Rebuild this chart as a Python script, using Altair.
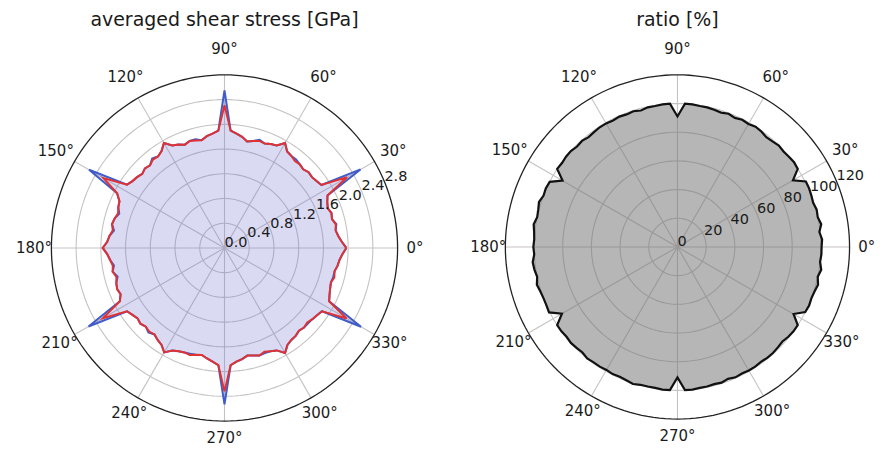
import altair as alt
import pandas as pd

# ---------------- data ----------------
theta_deg = list(range(0, 360, 3))

stress_red = [
    1.97, 1.90, 1.85, 1.82, 1.84, 1.80, 1.82, 1.79, 1.82, 1.87,
    2.29, 1.87, 1.84, 1.82, 1.83, 1.80, 1.82, 1.81, 1.84, 1.86,
    1.96, 1.86, 1.84, 1.81, 1.82, 1.79, 1.76, 1.82, 1.86, 1.90,
    2.31, 1.90, 1.86, 1.83, 1.78, 1.80, 1.82, 1.79, 1.83, 1.86,
    1.96, 1.87, 1.83, 1.84, 1.80, 1.82, 1.79, 1.82, 1.84, 1.88,
    2.26, 1.95, 1.86, 1.84, 1.81, 1.84, 1.86, 1.83, 1.87, 1.90,
    1.97, 1.90, 1.86, 1.83, 1.85, 1.81, 1.84, 1.86, 1.84, 1.90,
    2.27, 1.88, 1.84, 1.81, 1.83, 1.80, 1.82, 1.80, 1.84, 1.87,
    1.95, 1.86, 1.83, 1.81, 1.82, 1.79, 1.77, 1.81, 1.85, 1.90,
    2.32, 1.90, 1.85, 1.82, 1.78, 1.80, 1.83, 1.80, 1.83, 1.86,
    1.96, 1.87, 1.84, 1.83, 1.80, 1.82, 1.80, 1.83, 1.85, 1.88,
    2.28, 1.90, 1.86, 1.83, 1.81, 1.84, 1.82, 1.85, 1.87, 1.91,
]

stress_blue = [
    1.97, 1.90, 1.85, 1.82, 1.85, 1.80, 1.82, 1.79, 1.82, 1.87,
    2.54, 1.87, 1.84, 1.82, 1.83, 1.80, 1.82, 1.84, 1.84, 1.86,
    1.96, 1.86, 1.84, 1.81, 1.84, 1.79, 1.76, 1.82, 1.86, 1.90,
    2.55, 1.90, 1.86, 1.83, 1.78, 1.82, 1.82, 1.79, 1.83, 1.86,
    1.96, 1.87, 1.83, 1.86, 1.80, 1.82, 1.79, 1.82, 1.84, 1.88,
    2.53, 1.95, 1.86, 1.84, 1.79, 1.84, 1.86, 1.81, 1.87, 1.90,
    1.97, 1.90, 1.86, 1.81, 1.85, 1.79, 1.84, 1.86, 1.84, 1.90,
    2.54, 1.88, 1.84, 1.81, 1.83, 1.80, 1.84, 1.80, 1.84, 1.87,
    1.95, 1.86, 1.83, 1.81, 1.80, 1.79, 1.77, 1.81, 1.85, 1.90,
    2.53, 1.90, 1.85, 1.82, 1.78, 1.80, 1.83, 1.82, 1.83, 1.86,
    1.96, 1.87, 1.84, 1.83, 1.80, 1.82, 1.82, 1.83, 1.85, 1.88,
    2.55, 1.90, 1.86, 1.83, 1.81, 1.82, 1.82, 1.85, 1.87, 1.91,
]

ratio_pct = [
    100.5, 101.0, 99.5, 101.5, 100.0, 100.5, 99.5, 100.0, 100.5, 100.5,
    93.0, 100.0, 100.5, 100.0, 99.5, 100.0, 99.0, 98.5, 99.5, 100.0,
    99.0, 99.5, 98.5, 99.5, 98.5, 99.0, 99.5, 99.5, 100.0, 100.0,
    91.0, 100.0, 100.0, 99.5, 99.5, 98.5, 99.5, 99.0, 99.5, 99.0,
    99.5, 99.5, 99.0, 98.5, 99.5, 99.0, 100.0, 100.0, 99.5, 100.0,
    92.5, 100.0, 100.5, 100.0, 101.5, 100.5, 100.0, 101.5, 100.5, 100.0,
    100.5, 100.0, 101.5, 101.0, 100.0, 101.5, 100.5, 100.0, 100.0, 100.5,
    93.0, 100.0, 100.0, 99.5, 100.0, 99.5, 99.0, 100.0, 99.5, 99.5,
    99.0, 99.5, 99.0, 99.5, 100.5, 99.5, 99.5, 99.5, 100.0, 100.0,
    91.0, 100.0, 100.0, 99.5, 99.5, 99.0, 99.5, 98.5, 99.5, 99.0,
    99.5, 99.5, 99.0, 99.5, 99.5, 99.0, 98.5, 99.5, 100.0, 100.0,
    93.5, 100.0, 100.5, 100.0, 100.5, 101.5, 100.0, 101.5, 100.0, 100.5,
]

stress_ticks = [0.0, 0.4, 0.8, 1.2, 1.6, 2.0, 2.4, 2.8]
stress_tick_labels = ["0.0", "0.4", "0.8", "1.2", "1.6", "2.0", "2.4", "2.8"]
ratio_ticks = [0, 20, 40, 60, 80, 100, 120]
ratio_tick_labels = ["0", "20", "40", "60", "80", "100", "120"]
angle_ticks = list(range(0, 360, 30))
angle_tick_labels = [f"{a}°" for a in angle_ticks]

stress_title = "averaged shear stress [GPa]"
ratio_title = "ratio [%]"

# ---------------- styling ----------------
FONT = "DejaVu Sans"
GRID = "#c6c2c2"
TXT = "#1a1a1a"
H = 410
RLAB_DIR = 22.5
circle_samples = list(range(0, 361, 2))

curve_df = pd.DataFrame({
    "theta": theta_deg + [360],
    "blue": stress_blue + [stress_blue[0]],
    "red": stress_red + [stress_red[0]],
    "ratio": ratio_pct + [ratio_pct[0]],
})


def polar_panel(value_cols, colors, fill_col, fill_color, fill_opacity,
                ticks, tick_labels, rmax, px_per_unit, width, cx, cy,
                title, title_dx, line_width):
    xdom = [-cx / px_per_unit, (width - cx) / px_per_unit]
    ydom = [-(H - cy) / px_per_unit, cy / px_per_unit]
    xs = alt.Scale(domain=xdom, nice=False, zero=False)
    ys = alt.Scale(domain=ydom, nice=False, zero=False)
    X = lambda f: alt.X(f, type="quantitative", scale=xs, axis=None)
    Y = lambda f: alt.Y(f, type="quantitative", scale=ys, axis=None)

    rad = "datum.theta * PI / 180"

    # grid rings
    inner_rings = [t for t in ticks if 0 < t < rmax]
    ring_df = pd.DataFrame([{"ring": r, "theta": a} for r in inner_rings for a in circle_samples])
    rings = alt.Chart(ring_df).transform_calculate(
        gx=f"datum.ring * cos({rad})", gy=f"datum.ring * sin({rad})"
    ).mark_line(color=GRID, strokeWidth=1.1).encode(
        x=X("gx"), y=Y("gy"), detail="ring:N", order="theta:Q"
    )

    # spokes
    spoke_df = pd.DataFrame({"theta": angle_ticks})
    spokes = alt.Chart(spoke_df).transform_calculate(
        x0="0", y0="0",
        sx=f"{rmax} * cos({rad})", sy=f"{rmax} * sin({rad})"
    ).mark_rule(color=GRID, strokeWidth=1.1).encode(
        x=X("x0"), y=Y("y0"), x2="sx:Q", y2="sy:Q"
    )

    # filled region
    fill = alt.Chart(curve_df).transform_calculate(
        fx=f"datum.{fill_col} * cos({rad})", fy=f"datum.{fill_col} * sin({rad})"
    ).mark_line(fill=fill_color, fillOpacity=fill_opacity, strokeOpacity=0).encode(
        x=X("fx"), y=Y("fy"), order="theta:Q"
    )

    lines = []
    for col, colr in zip(value_cols, colors):
        lines.append(
            alt.Chart(curve_df).transform_calculate(
                lx=f"datum.{col} * cos({rad})", ly=f"datum.{col} * sin({rad})"
            ).mark_line(color=colr, strokeWidth=line_width, strokeJoin="miter").encode(
                x=X("lx"), y=Y("ly"), order="theta:Q"
            )
        )

    # outer spine
    spine_df = pd.DataFrame({"theta": circle_samples})
    spine = alt.Chart(spine_df).transform_calculate(
        ox=f"{rmax} * cos({rad})", oy=f"{rmax} * sin({rad})"
    ).mark_line(color="#222222", strokeWidth=1.3).encode(
        x=X("ox"), y=Y("oy"), order="theta:Q"
    )

    # angle labels (a little more pad above than elsewhere)
    alab_df = pd.DataFrame({"theta": angle_ticks, "label": angle_tick_labels})
    alabels = alt.Chart(alab_df).transform_calculate(
        lr=f"{rmax} * (1.1 + 0.05 * max(sin({rad}), 0))",
        tx=f"datum.lr * cos({rad})", ty=f"datum.lr * sin({rad})"
    ).mark_text(font=FONT, fontSize=15, color=TXT, align="center", baseline="middle").encode(
        x=X("tx"), y=Y("ty"), text="label:N"
    )

    # radial labels
    rlab_df = pd.DataFrame({"r": ticks, "label": tick_labels})
    rlabels = alt.Chart(rlab_df).transform_calculate(
        tx=f"datum.r * cos({RLAB_DIR} * PI / 180)", ty=f"datum.r * sin({RLAB_DIR} * PI / 180)"
    ).mark_text(font=FONT, fontSize=14.5, color=TXT, align="left", baseline="bottom", dy=2).encode(
        x=X("tx"), y=Y("ty"), text="label:N"
    )

    return alt.layer(rings, spokes, fill, *lines, spine, alabels, rlabels).properties(
        width=width, height=H,
        title=alt.TitleParams(title, font=FONT, fontSize=19, fontWeight="normal",
                              color=TXT, anchor="middle", dx=title_dx, offset=2),
    )


left = polar_panel(["blue", "red"], ["#3f5cc8", "#e03232"], "blue", "#6a70d0", 0.25,
                   stress_ticks, stress_tick_labels, 2.8, 173.5 / 2.8, 420, 217, 216,
                   stress_title, 7, 2.0)
right = polar_panel(["ratio"], ["#111111"], "ratio", "#6e6e6e", 0.5,
                    ratio_ticks, ratio_tick_labels, 120, 172.5 / 120, 430, 239, 215,
                    ratio_title, 24, 2.2)

chart = alt.hconcat(left, right, spacing=12).resolve_scale(
    x="independent", y="independent"
).properties(padding={"top": 3, "left": 0, "right": 0, "bottom": 0}).configure_view(stroke=None)

chart.save("out.html", embed_options={"renderer": "svg", "actions": False})
